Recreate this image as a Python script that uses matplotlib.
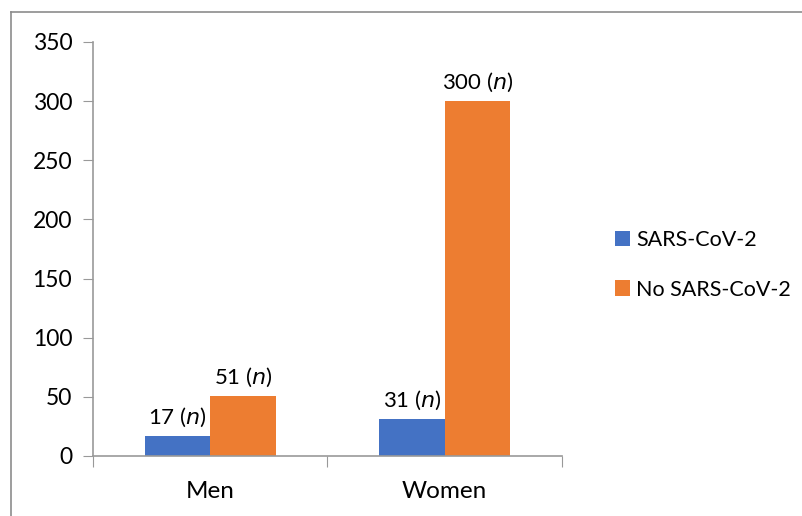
import numpy as np
import matplotlib.pyplot as plt
from matplotlib.lines import Line2D

plt.rcParams['font.family'] = ['Lato', 'DejaVu Sans']

# Данные
categories = ['Men', 'Women']
covid = [17, 31]
no_covid = [51, 300]
series_names = ['SARS-CoV-2', 'No SARS-CoV-2']
colors = ['#4472C4', '#ED7D31']

W, H = 803, 516
fig = plt.figure(figsize=(W / 100, H / 100), dpi=100)
ax = fig.add_axes([93 / W, 1 - 456 / H, (562 - 93) / W, (456 - 42) / H])

x = np.arange(len(categories))
width = 0.28
b1 = ax.bar(x - width / 2, covid, width, color=colors[0], label=series_names[0])
b2 = ax.bar(x + width / 2, no_covid, width, color=colors[1], label=series_names[1])

# Подписи над столбцами
for bars in (b1, b2):
    for rect in bars:
        v = rect.get_height()
        ax.annotate(f'{v} ($\\mathit{{n}}$)', (rect.get_x() + rect.get_width() / 2, v),
                    xytext=(0, 5), textcoords='offset points', ha='center', va='bottom',
                    fontsize=16)

ax.set_xlim(-0.5, 1.5)
ax.set_ylim(0, 350)
ax.set_yticks(np.arange(0, 351, 50))
ax.set_xticks([-0.5, 0.5, 1.5], minor=False)
ax.set_xticklabels([])
ax.set_xticks(x, minor=True)
ax.set_xticklabels(categories, minor=True)
ax.tick_params(axis='x', which='major', length=8, color='#999999', direction='out')
ax.tick_params(axis='x', which='minor', length=0, labelsize=17.5, pad=18)
ax.tick_params(axis='y', length=7, color='#999999', labelsize=16.5, pad=8)

for s in ('top', 'right'):
    ax.spines[s].set_visible(False)
for s in ('left', 'bottom'):
    ax.spines[s].set_color('#999999')
    ax.spines[s].set_linewidth(1.2)

fig.legend(handles=[b1, b2], loc='center left', bbox_to_anchor=(596 / W, 1 - 265 / H),
           frameon=False, fontsize=15.5, handlelength=0.7, handleheight=0.7,
           handletextpad=0.25, labelspacing=1.35)

# Рамка (только верх и лево)
fig.add_artist(Line2D([11 / W, 1], [1 - 12 / H, 1 - 12 / H], color='#8c8c8c', lw=1.2))
fig.add_artist(Line2D([11 / W, 11 / W], [0, 1 - 12 / H], color='#8c8c8c', lw=1.2))

fig.savefig('out.png', dpi=100)
